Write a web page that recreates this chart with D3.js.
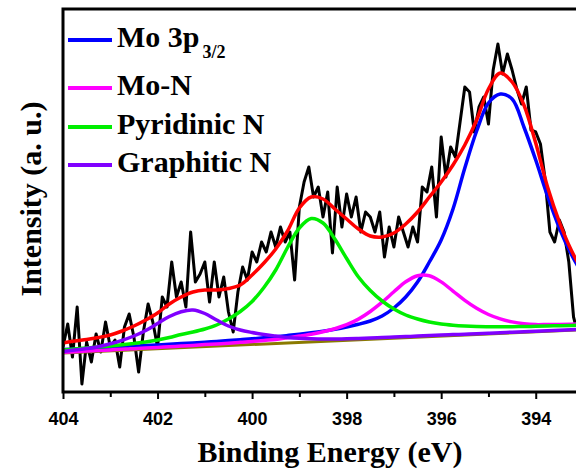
<!DOCTYPE html>
<html>
<head>
<meta charset="utf-8">
<script src="https://cdn.jsdelivr.net/npm/d3@7"></script>
<style>
  html, body { margin: 0; padding: 0; background: #fff; }
  svg { display: block; }
</style>
</head>
<body>
<script>
// raw N 1s spectrum (binding energy, counts in a.u.)
const rawEnergy = [
  404.0, 403.9, 403.8, 403.7, 403.6, 403.5, 403.4, 403.3, 403.2, 403.1,
  403.0, 402.9, 402.8, 402.7, 402.6, 402.5, 402.4, 402.3, 402.2, 402.1,
  402.0, 401.9, 401.8, 401.7, 401.6, 401.5, 401.4, 401.3, 401.2, 401.1,
  401.0, 400.9, 400.8, 400.7, 400.6, 400.5, 400.4, 400.3, 400.2, 400.1,
  400.0, 399.9, 399.8, 399.7, 399.6, 399.5, 399.4, 399.3, 399.2, 399.1,
  399.0, 398.9, 398.8, 398.7, 398.6, 398.5, 398.4, 398.3, 398.2, 398.1,
  398.0, 397.9, 397.8, 397.7, 397.6, 397.5, 397.4, 397.3, 397.2, 397.1,
  397.0, 396.9, 396.8, 396.7, 396.6, 396.5, 396.4, 396.3, 396.2, 396.1,
  396.0, 395.9, 395.8, 395.7, 395.6, 395.5, 395.4, 395.3, 395.2, 395.1,
  395.0, 394.9, 394.8, 394.7, 394.6, 394.5, 394.4, 394.3, 394.2, 394.1,
  394.0, 393.9, 393.8, 393.7, 393.6, 393.5, 393.4, 393.3, 393.2, 393.15
];
const rawCounts = [
  45, 68, 35, 85, 8, 50, 30, 58, 40, 70,
  45, 52, 25, 65, 78, 55, 20, 60, 88, 70,
  45, 95, 85, 130, 95, 110, 85, 160, 110, 118,
  130, 90, 130, 95, 115, 80, 60, 100, 125, 112,
  140, 130, 150, 140, 160, 145, 165, 150, 160, 112,
  185, 210, 225, 195, 205, 175, 200, 139, 205, 165,
  198, 175, 195, 160, 180, 175, 160, 180, 135, 165,
  145, 175, 160, 145, 165, 150, 205, 200, 225, 175,
  255, 215, 245, 235, 270, 305, 300, 260, 285, 295,
  268, 322, 348, 318, 338, 322, 303, 288, 305, 262,
  260, 248, 212, 160, 150, 172, 160, 130, 75, 66
];

// fitted curves, sampled every 0.25 eV
const fitEnergy = [
  404, 403.75, 403.5, 403.25, 403, 402.75, 402.5, 402.25, 402, 401.75,
  401.5, 401.25, 401, 400.75, 400.5, 400.25, 400, 399.75, 399.5, 399.25,
  399, 398.75, 398.5, 398.25, 398, 397.75, 397.5, 397.25, 397, 396.75,
  396.5, 396.25, 396, 395.75, 395.5, 395.25, 395, 394.75, 394.5, 394.25,
  394, 393.75, 393.5, 393.25, 393
];
const mo3pFit = [
  42.5, 43, 43.5, 44, 44.6, 45.2, 45.8, 46.4, 47, 47.7,
  48.4, 49.1, 49.8, 50.6, 51.4, 52.3, 53.2, 54.2, 55.3, 56.5,
  57.8, 59.2, 60.8, 62.7, 65, 67.7, 71, 76, 84, 95,
  110, 130, 152, 183, 224, 261, 289, 298, 293, 265,
  232, 196, 164, 138, 117
];
const moNFit = [
  39.7, 40.3, 40.9, 41.5, 42.1, 42.8, 43.3, 44, 44.6, 45.3,
  45.9, 46.6, 47.4, 48.1, 48.8, 49.7, 50.6, 51.6, 52.5, 54.2,
  55.9, 57.8, 60.2, 63.3, 67.3, 72.9, 80.5, 89.8, 100.2, 110.2,
  116.3, 116.2, 110.1, 100.9, 91.6, 83.7, 77.5, 73.1, 70.1, 68.2,
  67.4, 67.5, 67.6, 67.8, 68
];
const pyridinicFit = [
  42, 43, 44, 45, 46, 47.2, 48.5, 50, 52, 54.5,
  57.5, 60, 63, 67, 73, 80.5, 90.5, 104.5, 122, 144.5,
  164, 173.5, 169, 153, 133.5, 115, 101.5, 91, 83, 77,
  73, 70, 68, 66.8, 66, 65.5, 65.3, 65.2, 65.3, 65.5,
  65.7, 66, 66.3, 66.6, 66.9
];
const graphiticFit = [
  40.5, 42, 43.4, 45.3, 48.2, 51.7, 56, 61.5, 68.5, 75.5,
  80.3, 82, 78.5, 72, 66, 62, 59.5, 57.5, 56, 54.6,
  53.7, 53.2, 52.9, 53, 53.2, 53.6, 54, 54.5, 55, 55.4,
  55.9, 56.4, 56.9, 57.4, 57.8, 58.3, 58.8, 59.3, 59.8, 60.3,
  60.8, 61.3, 61.8, 62.3, 62.8
];
const envelopeFit = [
  49, 51, 52.5, 54.5, 57, 61, 66, 72, 79, 88,
  95, 100, 102, 102, 103.5, 107, 117, 129, 143, 161,
  184, 195, 193, 183, 173, 163, 156, 155, 159, 168,
  180, 195, 210, 227, 247, 272, 303, 319, 310, 287,
  249, 205, 170, 142, 120
];
const baselineEnergy = [404, 393];
const baselineFit = [39, 62.3];

const majorTicks = [404, 402, 400, 398, 396, 394];
const minorTicks = [403, 401, 399, 397, 395, 393];

const width = 576;
const height = 475;
const plot = { left: 63, right: 583, top: 9, bottom: 392 };

const x = d3.scaleLinear().domain([404, 393]).range([plot.left, plot.right]);
const y = d3.scaleLinear().domain([0, 383]).range([plot.bottom, plot.top]);

const svg = d3.select('body')
  .append('svg')
  .attr('width', width)
  .attr('height', height)
  .attr('viewBox', [0, 0, width, height]);

svg.append('rect').attr('width', width).attr('height', height).attr('fill', '#fff');

svg.append('clipPath')
  .attr('id', 'plot-clip')
  .append('rect')
  .attr('x', plot.left)
  .attr('y', plot.top)
  .attr('width', plot.right - plot.left)
  .attr('height', plot.bottom - plot.top);

const curves = svg.append('g').attr('clip-path', 'url(#plot-clip)');

const zip = (xs, ys) => xs.map((e, i) => [e, ys[i]]);

const rawLine = d3.line()
  .x(d => x(d[0]))
  .y(d => y(d[1]));

const fitLine = d3.line()
  .x(d => x(d[0]))
  .y(d => y(d[1]))
  .curve(d3.curveCatmullRom.alpha(0.5));

curves.append('path')
  .attr('d', rawLine(zip(rawEnergy, rawCounts)))
  .attr('fill', 'none')
  .attr('stroke', '#000')
  .attr('stroke-width', 3)
  .attr('stroke-linejoin', 'round');

curves.append('path')
  .attr('d', rawLine(zip(baselineEnergy, baselineFit)))
  .attr('fill', 'none')
  .attr('stroke', '#8a7a00')
  .attr('stroke-width', 3);

const components = [
  { name: 'Mo 3p', sub: '3/2', values: mo3pFit, color: '#0000ff' },
  { name: 'Mo-N', values: moNFit, color: '#ff00ff' },
  { name: 'Pyridinic N', values: pyridinicFit, color: '#00ee00' },
  { name: 'Graphitic N', values: graphiticFit, color: '#8000ff' }
];

components.forEach(c => {
  curves.append('path')
    .attr('d', fitLine(zip(fitEnergy, c.values)))
    .attr('fill', 'none')
    .attr('stroke', c.color)
    .attr('stroke-width', 3.5);
});

curves.append('path')
  .attr('d', fitLine(zip(fitEnergy, envelopeFit)))
  .attr('fill', 'none')
  .attr('stroke', '#ff0000')
  .attr('stroke-width', 3.5);

// frame
svg.append('rect')
  .attr('x', plot.left)
  .attr('y', plot.top)
  .attr('width', plot.right - plot.left)
  .attr('height', plot.bottom - plot.top)
  .attr('fill', 'none')
  .attr('stroke', '#000')
  .attr('stroke-width', 3);

const xAxis = svg.append('g')
  .attr('transform', `translate(0,${plot.bottom})`)
  .call(d3.axisBottom(x).tickValues(majorTicks).tickSize(7).tickPadding(13).tickFormat(d3.format('d')));
xAxis.select('.domain').remove();
xAxis.selectAll('line').attr('stroke-width', 2);
xAxis.selectAll('text')
  .attr('fill', '#000')
  .style('font', 'bold 18px "Liberation Sans", Arial, sans-serif');

const xMinor = svg.append('g')
  .attr('transform', `translate(0,${plot.bottom})`)
  .call(d3.axisBottom(x).tickValues(minorTicks).tickSize(5).tickFormat(''));
xMinor.select('.domain').remove();
xMinor.selectAll('line').attr('stroke-width', 2);

const titleFont = 'bold 30px "Liberation Serif", "Times New Roman", serif';

svg.append('text')
  .attr('x', 330)
  .attr('y', 462)
  .attr('text-anchor', 'middle')
  .style('font', titleFont)
  .text('Binding Energy (eV)');

svg.append('text')
  .attr('transform', 'translate(41,199) rotate(-90)')
  .attr('text-anchor', 'middle')
  .style('font', titleFont)
  .text('Intensity (a. u.)');

// legend
const legendRows = [40, 88, 127, 165];
const legend = svg.append('g')
  .selectAll('g')
  .data(components)
  .join('g')
  .attr('transform', (d, i) => `translate(68,${legendRows[i]})`);

legend.append('line')
  .attr('x1', 0)
  .attr('x2', 44)
  .attr('stroke', d => d.color)
  .attr('stroke-width', 4);

const legendText = legend.append('text')
  .attr('x', 49)
  .attr('y', 7)
  .style('font', titleFont);

legendText.append('tspan').text(d => d.name);
legendText.filter(d => d.sub)
  .append('tspan')
  .attr('dy', 11)
  .attr('dx', 3)
  .style('font-size', '18px')
  .text(d => d.sub);
</script>
</body>
</html>
